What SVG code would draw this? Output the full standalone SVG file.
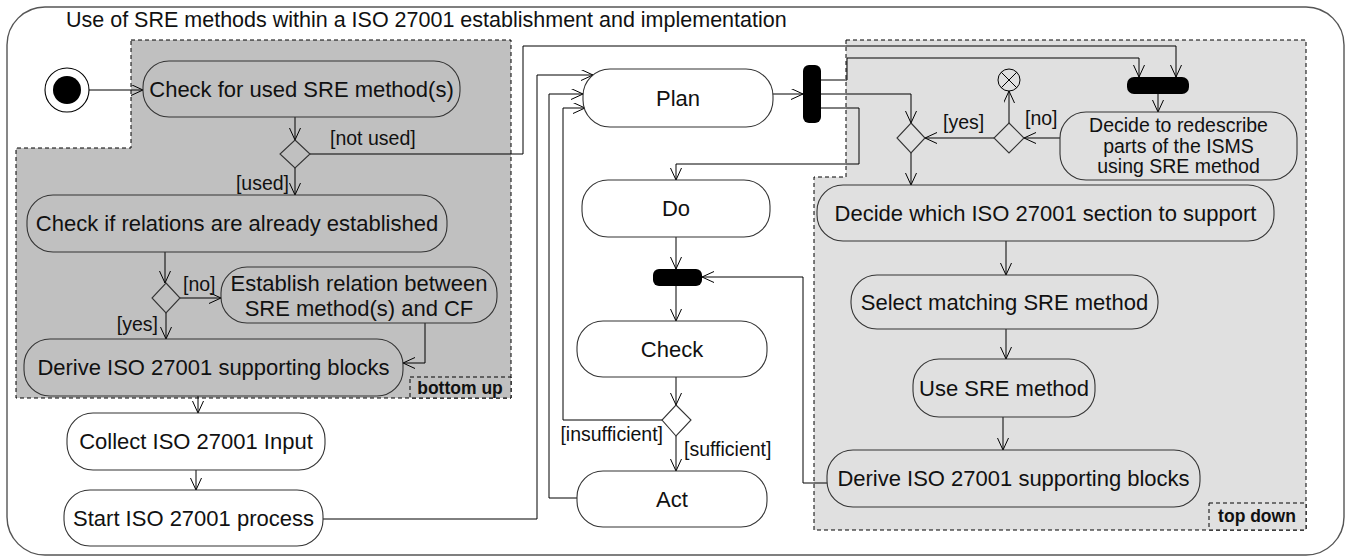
<svg xmlns="http://www.w3.org/2000/svg" width="1349" height="557" viewBox="0 0 1349 557">
<defs>
<marker id="arr" markerUnits="userSpaceOnUse" markerWidth="14" markerHeight="12" refX="12" refY="5.5" orient="auto">
<path d="M0,0 L12,5.5 L0,11" fill="none" stroke="#000" stroke-width="1"/>
</marker>
<style>
text{font-family:"Liberation Sans",Arial,sans-serif;fill:#111}
.t{font-size:22px;text-anchor:middle}
.l{font-size:19.5px}
.b{font-size:17.5px;font-weight:bold;text-anchor:middle}
.r{font-size:19.5px;text-anchor:middle}
.n{stroke:#333;stroke-width:1.1}
.bu{fill:#c0c0c0}
.td{fill:#e0e0e0}
.w{fill:#fff}
.reg{stroke:#000;stroke-width:1;stroke-dasharray:4 3}
.c{fill:none;stroke:#000;stroke-width:1;marker-end:url(#arr)}
.bar{fill:#000}
</style>
</defs>
<rect x="0" y="0" width="1349" height="557" fill="#fff"/>
<rect x="7" y="7" width="1337" height="548" rx="38" fill="#fff" stroke="#555" stroke-width="1.4"/>
<text x="66" y="27" style="font-size:21.5px">Use of SRE methods within a ISO 27001 establishment and implementation</text>

<g id="region-bottom-up">
<path class="bu reg" d="M131,40 H511 V398 H16 V148 H131 Z"/>
<rect class="bu reg" x="410" y="377" width="101" height="21"/>
<text class="b" x="460" y="394">bottom up</text>
</g>
<g id="region-top-down">
<path class="td reg" d="M846,40 H1306 V530 H814 V177 H846 Z"/>
<rect class="td reg" x="1209" y="503" width="97" height="27"/>
<text class="b" x="1257" y="522">top down</text>
</g>

<g id="connectors">
<path class="c" d="M89,90 H143"/>
<path class="c" d="M295,117 V140"/>
<path class="c" d="M310,154 H523 V46 H1176 V77"/>
<path class="c" d="M295,168 V195"/>
<path class="c" d="M165,252 V283"/>
<path class="c" d="M180,298 H221"/>
<path class="c" d="M166,313 V339"/>
<path class="c" d="M425,323 V363 H403"/>
<path class="c" d="M198,396 V413"/>
<path class="c" d="M196,470 V490"/>
<path class="c" d="M323,519 H537 V75 H593"/>
<path class="c" d="M772,94 H803"/>
<path class="c" d="M821,80 H847 V58 H1139 V77"/>
<path class="c" d="M821,94 H911 V123"/>
<path class="c" d="M821,108 H859 V164 H676 V180"/>
<path class="c" d="M676,237 V269"/>
<path class="c" d="M676,286 V321"/>
<path class="c" d="M676,377 V405"/>
<path class="c" d="M662,420 H563 V108 H585"/>
<path class="c" d="M676,436 V471"/>
<path class="c" d="M577,498 H549 V94 H583"/>
<path class="c" d="M827,483 H803 V277 H702"/>
<path class="c" d="M1158,94 V112"/>
<path class="c" d="M1060,138 H1024"/>
<path class="c" d="M1009,123 V91"/>
<path class="c" d="M994,138 H925"/>
<path class="c" d="M911,153 V185"/>
<path class="c" d="M1006,241 V275"/>
<path class="c" d="M1006,329 V359"/>
<path class="c" d="M1003,417 V450"/>
<text class="l" x="330" y="145">[not used]</text>
<text class="l" x="289" y="190" text-anchor="end">[used]</text>
<text class="l" x="183" y="291">[no]</text>
<text class="l" x="158" y="331" text-anchor="end">[yes]</text>
<text class="l" x="663" y="441" text-anchor="end">[insufficient]</text>
<text class="l" x="684" y="456">[sufficient]</text>
<text class="l" x="943" y="129">[yes]</text>
<text class="l" x="1025" y="125">[no]</text>
</g>

<g id="start">
<circle cx="67" cy="90" r="22" fill="#fff" stroke="#000" stroke-width="1.1"/>
<circle cx="67" cy="90" r="14" fill="#000"/>
</g>
<g id="check-used">
<rect class="n bu" x="143" y="61" width="317" height="56" rx="26"/>
<text class="t" x="301.5" y="97">Check for used SRE method(s)</text>
</g>
<g id="decision-used">
<path class="n bu" d="M295,140 L310,154 L295,168 L280,154 Z"/>
</g>
<g id="check-relations">
<rect class="n bu" x="27" y="195" width="420" height="57" rx="26"/>
<text class="t" x="237" y="231">Check if relations are already established</text>
</g>
<g id="decision-relations">
<path class="n bu" d="M166,283 L180,298 L166,313 L152,298 Z"/>
</g>
<g id="establish-relation">
<rect class="n bu" x="221" y="267" width="276" height="56" rx="26"/>
<text class="t" x="359" y="291">Establish relation between</text>
<text class="t" x="359" y="316">SRE method(s) and CF</text>
</g>
<g id="derive-bu">
<rect class="n bu" x="24" y="339" width="379" height="57" rx="26"/>
<text class="t" x="213.5" y="375">Derive ISO 27001 supporting blocks</text>
</g>
<g id="collect-input">
<rect class="n w" x="67" y="413" width="258" height="57" rx="26"/>
<text class="t" x="196" y="449">Collect ISO 27001 Input</text>
</g>
<g id="start-process">
<rect class="n w" x="64" y="490" width="259" height="56" rx="26"/>
<text class="t" x="193.5" y="526">Start ISO 27001 process</text>
</g>
<g id="plan">
<rect class="n w" x="583" y="69" width="190" height="58" rx="27"/>
<text class="t" x="678" y="106">Plan</text>
</g>
<g id="fork">
<rect class="bar" x="803" y="65" width="18" height="58" rx="6"/>
</g>
<g id="do">
<rect class="n w" x="582" y="180" width="188" height="57" rx="26"/>
<text class="t" x="676" y="216">Do</text>
</g>
<g id="join-check">
<rect class="bar" x="653" y="269" width="49" height="17" rx="6"/>
</g>
<g id="check">
<rect class="n w" x="577" y="321" width="190" height="56" rx="26"/>
<text class="t" x="672" y="357">Check</text>
</g>
<g id="decision-check">
<path class="n w" d="M676,405 L691,420 L676,436 L662,420 Z"/>
</g>
<g id="act">
<rect class="n w" x="577" y="471" width="190" height="56" rx="26"/>
<text class="t" x="672" y="507">Act</text>
</g>
<g id="join-redescribe">
<rect class="bar" x="1127" y="77" width="62" height="17" rx="7"/>
</g>
<g id="redescribe">
<rect class="n td" x="1060" y="112" width="237" height="68" rx="26"/>
<text class="r" x="1178.5" y="132">Decide to redescribe</text>
<text class="r" x="1178.5" y="152.5">parts of the ISMS</text>
<text class="r" x="1178.5" y="173">using SRE method</text>
</g>
<g id="decision-redescribe">
<path class="n td" d="M1009,123 L1024,138 L1009,153 L994,138 Z"/>
</g>
<g id="flow-final">
<circle cx="1009" cy="80" r="11" fill="#e0e0e0" stroke="#000" stroke-width="1"/>
<path d="M1001.2,72.2 L1016.8,87.8 M1016.8,72.2 L1001.2,87.8" stroke="#000" stroke-width="1"/>
</g>
<g id="merge">
<path class="n td" d="M911,123 L925,138 L911,153 L897,138 Z"/>
</g>
<g id="decide-section">
<rect class="n td" x="817" y="185" width="457" height="56" rx="26"/>
<text class="t" x="1045.5" y="221">Decide which ISO 27001 section to support</text>
</g>
<g id="select-method">
<rect class="n td" x="851" y="275" width="307" height="54" rx="26"/>
<text class="t" x="1004.5" y="310">Select matching SRE method</text>
</g>
<g id="use-method">
<rect class="n td" x="913" y="359" width="182" height="58" rx="26"/>
<text class="t" x="1004" y="396">Use SRE method</text>
</g>
<g id="derive-td">
<rect class="n td" x="827" y="450" width="373" height="57" rx="26"/>
<text class="t" x="1013.5" y="486">Derive ISO 27001 supporting blocks</text>
</g>
</svg>
